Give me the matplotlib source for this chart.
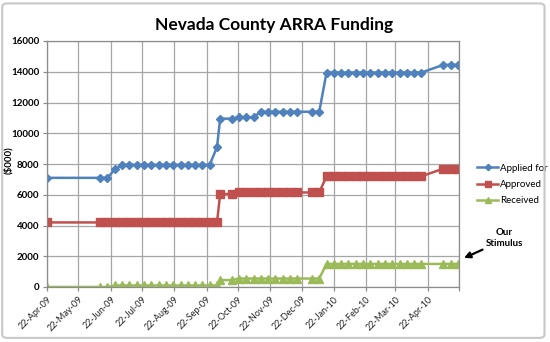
import matplotlib
matplotlib.use("Agg")
import matplotlib.pyplot as plt
from matplotlib.patches import FancyBboxPatch
import pandas as pd

plt.rcParams['font.family'] = ['Lato', 'DejaVu Sans']

dates = ['2009-04-22', '2009-06-12', '2009-06-19', '2009-06-26', '2009-07-03', '2009-07-10',
         '2009-07-17', '2009-07-24', '2009-07-31', '2009-08-07', '2009-08-14', '2009-08-21',
         '2009-08-28', '2009-09-04', '2009-09-11', '2009-09-18', '2009-09-25', '2009-10-02',
         '2009-10-05', '2009-10-16', '2009-10-23', '2009-10-30', '2009-11-06', '2009-11-13',
         '2009-11-20', '2009-11-27', '2009-12-04', '2009-12-11', '2009-12-18', '2010-01-01',
         '2010-01-08', '2010-01-15', '2010-01-22', '2010-01-29', '2010-02-05', '2010-02-12',
         '2010-02-19', '2010-02-26', '2010-03-05', '2010-03-12', '2010-03-19', '2010-03-26',
         '2010-04-02', '2010-04-09', '2010-04-16', '2010-05-07', '2010-05-14', '2010-05-21']

applied = [7100, 7100, 7100, 7650, 7950, 7950,
           7950, 7950, 7950, 7950, 7950, 7950,
           7950, 7950, 7950, 7950, 7950, 9100,
           10950, 10950, 11030, 11030, 11030, 11400,
           11400, 11400, 11400, 11400, 11400, 11400,
           11400, 13950, 13950, 13950, 13950, 13950,
           13950, 13950, 13950, 13950, 13950, 13950,
           13950, 13950, 13950, 14450, 14450, 14450]

approved = [4200, 4200, 4200, 4200, 4200, 4200,
            4200, 4200, 4200, 4200, 4200, 4200,
            4200, 4200, 4200, 4200, 4200, 4200,
            6050, 6050, 6150, 6150, 6150, 6150,
            6150, 6150, 6150, 6150, 6150, 6150,
            6150, 7200, 7200, 7200, 7200, 7200,
            7200, 7200, 7200, 7200, 7200, 7200,
            7200, 7200, 7200, 7700, 7700, 7700]

received = [0, 0, 0, 100, 100, 100,
            100, 100, 100, 100, 100, 100,
            100, 100, 100, 100, 100, 100,
            450, 450, 550, 550, 550, 550,
            550, 550, 550, 550, 550, 550,
            550, 1500, 1500, 1500, 1500, 1500,
            1500, 1500, 1500, 1500, 1500, 1500,
            1500, 1500, 1500, 1500, 1500, 1500]

tick_dates = ['2009-04-22', '2009-05-22', '2009-06-22', '2009-07-22', '2009-08-22',
              '2009-09-22', '2009-10-22', '2009-11-22', '2009-12-22', '2010-01-22',
              '2010-02-22', '2010-03-22', '2010-04-22', '2010-05-22']
tick_labels = ['22-Apr-09', '22-May-09', '22-Jun-09', '22-Jul-09', '22-Aug-09', '22-Sep-09',
               '22-Oct-09', '22-Nov-09', '22-Dec-09', '22-Jan-10', '22-Feb-10', '22-Mar-10',
               '22-Apr-10', '']

x = pd.to_datetime(dates)
ticks = pd.to_datetime(tick_dates)

fig = plt.figure(figsize=(5.5, 3.42), dpi=100)
fig.patch.set_facecolor('white')
border = FancyBboxPatch((0.004, 0.012), 0.986, 0.978, boxstyle="round,pad=0,rounding_size=0.01",
                        transform=fig.transFigure, facecolor='none', edgecolor='#c8c8c8',
                        linewidth=1.5)
fig.patches.append(border)

ax = fig.add_axes([47/550, 1-287/342, (459-47)/550, (287-41)/342])

ax.plot(x, applied, color='#4F81BD', marker='D', markersize=4.3, linewidth=1.8, label='Applied for')
ax.plot(x, approved, color='#C0504D', marker='s', markersize=5.6, linewidth=1.8, label='Approved')
ax.plot(x, received, color='#9BBB59', marker='^', markersize=5.5, linewidth=1.8, label='Received')

ax.set_ylim(0, 16000)
ax.set_yticks(range(0, 16001, 2000))
ax.set_xlim(ticks[0], ticks[-1])
ax.set_xticks(ticks)
ax.set_xticklabels(tick_labels, rotation=45, ha='right', rotation_mode='anchor', fontsize=6.5)
for lab in ax.get_yticklabels():
    lab.set_fontsize(7)
    lab.set_fontweight('bold')
for lab in ax.get_xticklabels():
    lab.set_color('#222222')

ax.grid(True, color='#a6a6a6', linewidth=0.9)
ax.set_axisbelow(True)
for s in ax.spines.values():
    s.set_color('#8c8c8c')
    s.set_linewidth(0.9)
ax.tick_params(axis='both', color='#8c8c8c', length=3, width=0.9, pad=2.5)

fig.text(8/550, 1-160/342, '($000)', rotation=90, ha='center', va='center',
         fontsize=7, fontweight='bold')
fig.text(274/550, 1-25/342, 'Nevada County ARRA Funding', ha='center', va='center',
         fontsize=12.5, fontweight='bold')

leg = ax.legend(loc='upper left', bbox_to_anchor=(473/550, 1-160/342), bbox_transform=fig.transFigure,
                frameon=False, fontsize=7, handlelength=2.2, handletextpad=0.2,
                labelspacing=0.75, borderaxespad=0, markerscale=0.75)

ax.annotate('Our\nStimulus', xy=(464, 342-258), xycoords='figure pixels',
            xytext=(504, 342-238), textcoords='figure pixels',
            ha='center', va='center', fontsize=7, fontweight='bold', linespacing=1.4,
            arrowprops=dict(arrowstyle='-|>', color='black', lw=1.6, mutation_scale=9,
                            shrinkA=0, shrinkB=0, relpos=(0.0, 0.0)))

fig.savefig('out.png', dpi=100, facecolor='white')
